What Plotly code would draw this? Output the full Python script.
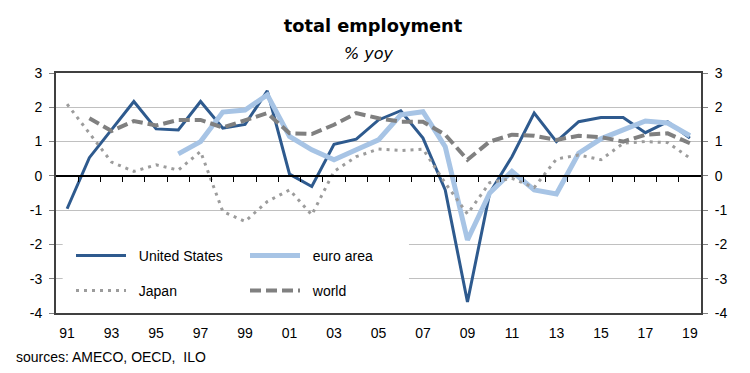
import plotly.graph_objects as go

years = list(range(1991, 2020))
us = [-0.96, 0.53, 1.35, 2.17, 1.37, 1.34, 2.17, 1.39, 1.50, 2.48,
      0.05, -0.31, 0.92, 1.07, 1.63, 1.90, 1.10, -0.41, -3.68, -0.50,
      0.56, 1.83, 1.00, 1.58, 1.70, 1.70, 1.26, 1.58, 1.10]
euro = [None, None, None, None, None, 0.64, 1.00, 1.86, 1.92, 2.36,
        1.15, 0.76, 0.47, 0.76, 1.05, 1.78, 1.87, 0.85, -1.87, -0.50,
        0.13, -0.41, -0.53, 0.66, 1.08, 1.34, 1.60, 1.54, 1.17]
japan = [2.09, 1.23, 0.40, 0.13, 0.32, 0.17, 0.71, -1.04, -1.33, -0.75,
         -0.41, -1.14, 0.13, 0.56, 0.78, 0.74, 0.78, -0.21, -1.11, -0.20,
         -0.07, -0.34, 0.49, 0.61, 0.47, 0.95, 1.00, 0.97, 0.52]
world = [None, 1.68, 1.31, 1.60, 1.47, 1.63, 1.63, 1.41, 1.63, 1.83,
         1.24, 1.22, 1.49, 1.83, 1.68, 1.58, 1.58, 1.20, 0.47, 1.00,
         1.20, 1.17, 1.05, 1.17, 1.13, 1.00, 1.20, 1.24, 0.95]
tick_years = list(range(1991, 2020, 2))
tick_labels = ["91", "93", "95", "97", "99", "01", "03", "05", "07", "09",
               "11", "13", "15", "17", "19"]
y_ticks = [3, 2, 1, 0, -1, -2, -3, -4]
y_labels = ["3", "2", "1", "0", "-1", "-2", "-3", "-4"]

FONT = "Liberation Sans, Arial, sans-serif"
AXC = "#404040"
NB = "\u00a0\u00a0"

# page body has an 8px margin; figure is sized so it fits the window
OFF = 8
W, H = 750 - 2 * OFF, 373 - 2 * OFF
# plot area in screen pixels: x 56..701, y 73..313
PL, PR, PT, PB = 56, 701, 73, 313


def px_x(p):
    return (p - PL) / (PR - PL)


def px_y(p):
    return (PB - p) / (PB - PT)


fig = go.Figure()
fig.add_trace(go.Scatter(x=years, y=us, name=NB + "United States", mode="lines",
                         line=dict(color="#2E5A8E", width=3), legend="legend"))
fig.add_trace(go.Scatter(x=years, y=euro, name=NB + "euro area", mode="lines",
                         line=dict(color="#A7C4E5", width=5), legend="legend2"))
fig.add_trace(go.Scatter(x=years, y=japan, name=NB + "Japan", mode="lines",
                         line=dict(color="#9C9C9C", width=3, dash="3px,5px"),
                         legend="legend3"))
fig.add_trace(go.Scatter(x=years, y=world, name=NB + "world", mode="lines",
                         line=dict(color="#808080", width=4, dash="11px,5px"),
                         legend="legend4"))
# helper traces so the extra axes are drawn
fig.add_trace(go.Scatter(x=[None], y=[None], xaxis="x2", yaxis="y",
                         showlegend=False, hoverinfo="skip"))
fig.add_trace(go.Scatter(x=[None], y=[None], xaxis="x", yaxis="y2",
                         showlegend=False, hoverinfo="skip"))

xr = [1990.5, 2019.5]
fig.update_layout(
    width=W, height=H,
    margin=dict(l=PL - OFF, r=W - (PR - OFF), t=PT - OFF, b=H - (PB - OFF),
                autoexpand=False),
    paper_bgcolor="white", plot_bgcolor="white",
    font=dict(family=FONT, size=14, color="#000000"),
    title=dict(text="<b>total employment</b>", x=(373 - OFF) / W,
               xref="container", xanchor="center",
               y=1 - (26 - OFF) / H, yref="container", yanchor="middle",
               font=dict(family="DejaVu Sans, Verdana, sans-serif", size=17.8,
                         color="#000000")),
    xaxis=dict(range=xr, tickvals=tick_years, ticktext=tick_labels,
               showgrid=False, zeroline=False, showline=True, linecolor=AXC,
               linewidth=2, mirror=True, ticks="", ticklabelstandoff=6,
               tickfont=dict(size=14)),
    xaxis2=dict(range=xr, overlaying="x", anchor="free", position=4 / 7,
                showline=True, linecolor="#000000", linewidth=1.5,
                ticks="outside", ticklen=5, tickwidth=1, tickcolor="#000000",
                tickvals=[y + 0.5 for y in years[:-1]],
                showticklabels=False, showgrid=False, zeroline=False),
    yaxis=dict(range=[-4, 3], tickvals=y_ticks, ticktext=y_labels,
               showgrid=True, gridcolor="#C0C0C0", gridwidth=1.2,
               zeroline=False, showline=True, linecolor=AXC, linewidth=2,
               ticks="outside", ticklen=5, tickcolor="#808080",
               ticklabelstandoff=4, tickfont=dict(size=14)),
    yaxis2=dict(range=[-4, 3], tickvals=y_ticks, ticktext=y_labels,
                overlaying="y", side="right", anchor="x", showgrid=False,
                zeroline=False, showline=True, linecolor=AXC, linewidth=2,
                ticks="outside", ticklen=5, tickcolor="#808080",
                ticklabelstandoff=4, tickfont=dict(size=14)),
    showlegend=True,
)

leg_common = dict(bgcolor="rgba(0,0,0,0)", borderwidth=0, itemwidth=50,
                  font=dict(family=FONT, size=14, color="#000000"),
                  xanchor="left", yanchor="middle", xref="paper", yref="paper")
c1 = px_x(71)
c2 = px_x(245)
r1 = px_y(256)
r2 = px_y(291)
fig.update_layout(
    legend=dict(x=c1, y=r1, **leg_common),
    legend2=dict(x=c2, y=r1, **leg_common),
    legend3=dict(x=c1, y=r2, **leg_common),
    legend4=dict(x=c2, y=r2, **leg_common),
)

# white legend box hiding the gridlines beneath the legend
fig.add_shape(type="rect", layer="between", xref="x", yref="y",
              x0=1990.8, x1=2006.37, y0=-3.95, y1=-1.4,
              fillcolor="white", line=dict(width=0))

fig.add_annotation(text="<i>% yoy</i>", xref="paper", yref="paper",
                   x=px_x(369), y=px_y(53), xanchor="center",
                   yanchor="middle", showarrow=False,
                   font=dict(family="DejaVu Sans, Verdana, sans-serif",
                             size=16, color="#000000"))
fig.add_annotation(text="sources: AMECO, OECD,  ILO", xref="paper",
                   yref="paper", x=px_x(14), y=px_y(357),
                   xanchor="left", yanchor="middle", showarrow=False,
                   font=dict(family=FONT, size=14, color="#000000"))

fig.write_html("out.html")
